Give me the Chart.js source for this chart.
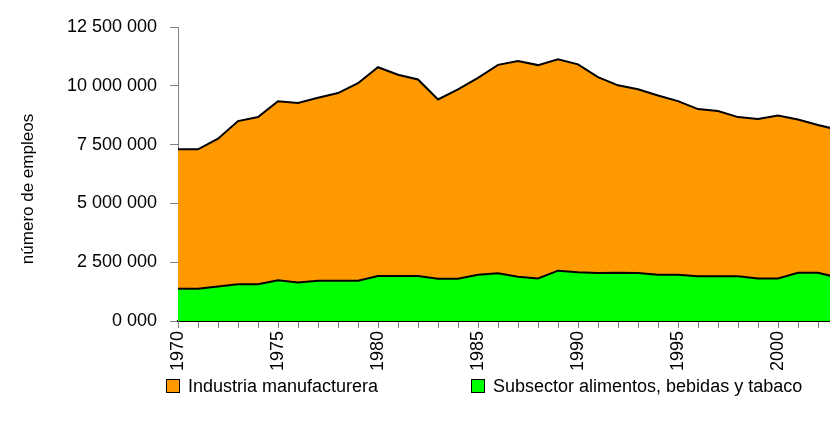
<!DOCTYPE html>
<html lang="es">
<head>
    <meta charset="UTF-8">
    <title>Empleo industria manufacturera</title>
    <script src="https://cdn.jsdelivr.net/npm/chart.js"></script>
    <style>
        body {
            margin: 0;
            padding: 0;
            background: #ffffff;
            font-family: "Liberation Sans", Arial, sans-serif;
        }
        .wrap {
            position: relative;
            width: 830px;
            height: 422px;
        }
        .legend-item {
            position: absolute;
            top: 376px;
            font-size: 18px;
            color: #000;
            white-space: nowrap;
        }
        .legend-item span.box {
            display: inline-block;
            width: 12px;
            height: 12px;
            border: 1px solid #000;
            margin-right: 8px;
            vertical-align: -1px;
        }
    </style>
</head>
<body>
    <div class="wrap">
        <canvas id="empleoChart" width="830" height="422"></canvas>
        <div class="legend-item" style="left:166px;"><span class="box" style="background:#ff9900"></span>Industria manufacturera</div>
        <div class="legend-item" style="left:471px;"><span class="box" style="background:#00ff00"></span>Subsector alimentos, bebidas y tabaco</div>
    </div>

    <script>
        // años 1970-2003 (2003 queda cortado en el borde derecho)
        const years = [1970, 1971, 1972, 1973, 1974, 1975, 1976, 1977, 1978, 1979,
                       1980, 1981, 1982, 1983, 1984, 1985, 1986, 1987, 1988, 1989,
                       1990, 1991, 1992, 1993, 1994, 1995, 1996, 1997, 1998, 1999,
                       2000, 2001, 2002, 2003];
        const manufacturera = [7300000, 7300000, 7750000, 8500000, 8670000, 9340000, 9270000, 9490000, 9690000, 10110000,
                               10790000, 10470000, 10270000, 9420000, 9850000, 10340000, 10890000, 11050000, 10880000, 11130000,
                               10910000, 10370000, 10020000, 9850000, 9590000, 9350000, 9010000, 8930000, 8670000, 8590000,
                               8740000, 8570000, 8330000, 8130000];
        const alimentos = [1370000, 1370000, 1470000, 1560000, 1560000, 1730000, 1640000, 1710000, 1710000, 1710000,
                           1910000, 1910000, 1910000, 1800000, 1800000, 1970000, 2030000, 1880000, 1810000, 2140000,
                           2070000, 2040000, 2050000, 2040000, 1970000, 1970000, 1900000, 1900000, 1900000, 1810000,
                           1810000, 2050000, 2050000, 1850000];
        const yTicks = [0, 2500000, 5000000, 7500000, 10000000, 12500000];

        const FONT = '"Liberation Sans", Arial, sans-serif';

        function fmt(v) {
            if (v === 0) return '0 000';
            return String(v).replace(/\B(?=(\d{3})+(?!\d))/g, ' ');
        }

        const toPoints = arr => arr.map((v, i) => ({ x: years[i], y: v }));

        // y axis title, drawn a bit lower than the chart.js default
        const yTitle = {
            id: 'yTitle',
            afterDraw(chart) {
                const c = chart.ctx;
                c.save();
                c.translate(28, 189);
                c.rotate(-Math.PI / 2);
                c.font = '17px ' + FONT;
                c.fillStyle = '#000';
                c.textAlign = 'center';
                c.textBaseline = 'middle';
                c.fillText('número de empleos', 0, 0);
                c.restore();
            }
        };

        const ctx = document.getElementById('empleoChart').getContext('2d');
        const empleoChart = new Chart(ctx, {
            type: 'line',
            data: {
                datasets: [{
                    label: 'Subsector alimentos, bebidas y tabaco',
                    data: toPoints(alimentos),
                    backgroundColor: '#00ff00',
                    borderColor: '#000000',
                    borderWidth: 2,
                    fill: 'origin',
                    pointRadius: 0,
                    tension: 0,
                    order: 1
                }, {
                    label: 'Industria manufacturera',
                    data: toPoints(manufacturera),
                    backgroundColor: '#ff9900',
                    borderColor: '#000000',
                    borderWidth: 2,
                    fill: 'origin',
                    pointRadius: 0,
                    tension: 0,
                    order: 2
                }]
            },
            options: {
                responsive: false,
                animation: false,
                layout: {
                    padding: { top: 27, right: 0, bottom: 0, left: 0 }
                },
                plugins: {
                    legend: { display: false },
                    tooltip: { enabled: false }
                },
                scales: {
                    x: {
                        type: 'linear',
                        min: 1970,
                        max: 2002.6,
                        afterBuildTicks: scale => {
                            scale.ticks = years.filter(y => y <= 2002.6).map(y => ({ value: y }));
                        },
                        afterFit: scale => {
                            scale.height = 101;
                            scale.paddingLeft = 0;
                            scale.paddingRight = 0;
                        },
                        grid: {
                            display: true,
                            drawOnChartArea: false,
                            drawTicks: true,
                            tickLength: 7,
                            color: '#808080'
                        },
                        border: { display: true, color: '#000000', width: 2 },
                        ticks: {
                            autoSkip: false,
                            minRotation: 90,
                            maxRotation: 90,
                            padding: 3,
                            color: '#000000',
                            font: { family: FONT, size: 18 },
                            callback: v => (v % 5 === 0 ? String(v) : '')
                        }
                    },
                    y: {
                        min: 0,
                        max: 12500000,
                        afterBuildTicks: scale => {
                            scale.ticks = yTicks.map(v => ({ value: v }));
                        },
                        afterFit: scale => { scale.width = 178; },
                        grid: {
                            display: true,
                            drawOnChartArea: false,
                            drawTicks: true,
                            tickLength: 8,
                            color: '#808080'
                        },
                        border: { display: true, color: '#808080', width: 1 },
                        ticks: {
                            padding: 13,
                            color: '#000000',
                            font: { family: FONT, size: 18 },
                            callback: v => fmt(v)
                        }
                    }
                }
            },
            plugins: [yTitle]
        });
    </script>
</body>
</html>
